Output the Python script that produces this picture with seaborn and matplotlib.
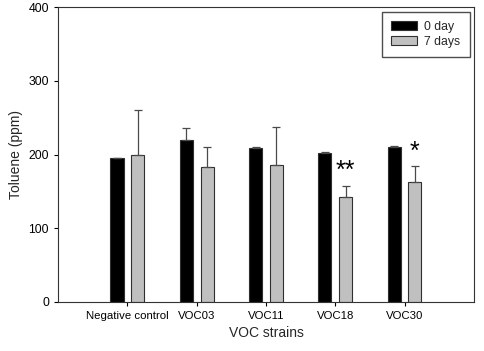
import matplotlib
matplotlib.use("Agg")
import matplotlib.pyplot as plt
import seaborn as sns
import pandas as pd
import numpy as np

# values
strains = ["Negative control", "VOC03", "VOC11", "VOC18", "VOC30"]
day0 = [195, 220, 209, 202, 211]
day0_err = [1, 16, 1, 1, 1]
day7 = [200, 183, 186, 143, 163]
day7_err = [60, 28, 51, 15, 21]
groups = ["0 day", "7 days"]
stars = ["", "", "", "**", "*"]

df = pd.DataFrame({
    "Strain": strains * 2,
    "Group": [groups[0]] * len(strains) + [groups[1]] * len(strains),
    "Toluene": day0 + day7,
    "Err": day0_err + day7_err,
})

sns.set_style("ticks")
plt.rcParams["font.family"] = ["Liberation Sans", "DejaVu Sans"]

fig = plt.figure(figsize=(4.84, 3.51), dpi=100)
ax = fig.add_axes([0.12, 0.14, 0.859, 0.839])

sns.barplot(
    data=df, x="Strain", y="Toluene", hue="Group", order=strains,
    hue_order=groups, palette=["black", "#c0c0c0"], width=0.6, gap=0.37,
    errorbar=None, edgecolor="#303030", linewidth=0.8, ax=ax,
)

# upper error bars only, placed at the bar centres seaborn chose
for grp, cont in zip(groups, ax.containers):
    sub = df[df["Group"] == grp].set_index("Strain").loc[strains]
    xs = [p.get_x() + p.get_width() / 2 for p in cont.patches]
    ax.errorbar(xs, sub["Toluene"], yerr=[np.zeros(len(xs)), sub["Err"]],
                fmt="none", ecolor="#4a4a4a", elinewidth=0.9, capsize=3,
                capthick=0.9)
    if grp == groups[1]:
        for x, v, e, s in zip(xs, sub["Toluene"], sub["Err"], stars):
            if s:
                ax.text(x, v + e + 4, s, ha="center", va="bottom",
                        fontsize=18, color="black")

ax.set_xlim(-1, 5)
ax.set_ylim(0, 400)
ax.set_yticks([0, 100, 200, 300, 400])
ax.tick_params(axis="y", labelsize=8.8, length=3, width=0.8, colors="black")
ax.tick_params(axis="x", labelsize=8.2, length=3, width=0.8, colors="black")
ax.set_xlabel("VOC strains", fontsize=10)
ax.set_ylabel("Toluene (ppm)", fontsize=10)
for sp in ax.spines.values():
    sp.set_visible(True)
    sp.set_color("#333333")
    sp.set_linewidth(0.8)

leg = ax.legend(loc="upper right", fontsize=8.8, frameon=True, fancybox=False,
                edgecolor="#222222", handlelength=2.1, handleheight=0.65,
                borderpad=0.75, labelspacing=0.25, handletextpad=0.6,
                borderaxespad=0.35)
leg.get_frame().set_linewidth(1.0)

fig.savefig("out.png", dpi=100)
